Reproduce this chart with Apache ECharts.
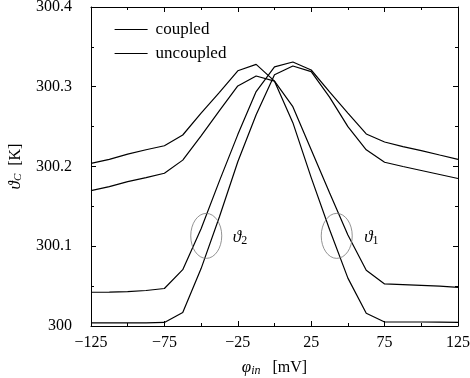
<!DOCTYPE html>
<html>
<head>
<meta charset="utf-8">
<script src="https://cdn.jsdelivr.net/npm/echarts@6/dist/echarts.min.js"></script>
<style>html,body{margin:0;padding:0;background:#fff}#c{width:470px;height:378px}</style>
</head>
<body>
<div id="c"></div>
<script>
// ---- data ----
const xValues = [-125,-112.5,-100,-87.5,-75,-62.5,-50,-37.5,-25,-12.5,0,12.5,25,37.5,50,62.5,75,87.5,100,112.5,125];
const theta1Coupled   = [300.204,300.209,300.2155,300.221,300.226,300.2395,300.267,300.293,300.320,300.328,300.307,300.275,300.221,300.167,300.114,300.070,300.0527,300.052,300.051,300.050,300.0485];
const theta1Uncoupled = [300.1697,300.1747,300.181,300.186,300.1915,300.208,300.2385,300.270,300.301,300.3135,300.307,300.255,300.186,300.121,300.060,300.016,300.005,300.005,300.005,300.0048,300.0046];
const theta2Coupled   = [300.0423,300.0425,300.043,300.0445,300.047,300.0706,300.122,300.182,300.240,300.294,300.325,300.331,300.321,300.2935,300.267,300.2408,300.2307,300.225,300.220,300.2144,300.209];
const theta2Uncoupled = [300.004,300.004,300.004,300.004,300.0045,300.017,300.072,300.137,300.206,300.265,300.315,300.326,300.319,300.287,300.250,300.221,300.2053,300.200,300.195,300.190,300.185];
const xMajorTicks = [-125,-75,-25,25,75,125];
const xMinorTicks = [-100,-50,0,50,100];
const legendNames = ['coupled','uncoupled'];
const ellipseCenters = [[-46.5,300.113],[42.4,300.113]];
const ellipseLabels = [{x:-23.5,y:300.111,sub:'2'},{x:66,y:300.111,sub:'1'}];

const FONT = '"Liberation Serif","DejaVu Serif",serif';
const chart = echarts.init(document.getElementById('c'), null, {renderer:'canvas'});

function pairs(v){ return xValues.map((x,i)=>[x,v[i]]); }
function fmtX(v){ return String(v).replace('-', '\u2212'); }

function mkSeries(name, vals){
  return {type:'line', name:name, data:pairs(vals), symbol:'none', showSymbol:false, xAxisIndex:0, yAxisIndex:0,
    lineStyle:{color:'#000', width:1.2}, itemStyle:{color:'#000'}, color:'#000', animation:false};
}

const baseX = {type:'value', min:-125, max:125, interval:25, splitLine:{show:false}};
const xAxes = [
  Object.assign({}, baseX, {position:'bottom',
    axisLine:{show:true, onZero:false, lineStyle:{color:'#000', width:1}},
    axisTick:{show:true, inside:true, length:5, customValues:xMajorTicks, lineStyle:{color:'#000'}},
    axisLabel:{show:true, customValues:xMajorTicks, formatter:fmtX, color:'#000', fontFamily:FONT, fontSize:16, margin:9},
    name:'{p|\u03C6}{s|in}   [mV]', nameLocation:'middle', nameGap:33,
    nameTextStyle:{color:'#000', fontFamily:FONT, fontSize:16, rich:{
      p:{fontFamily:FONT, fontStyle:'italic', fontSize:17, color:'#000'},
      s:{fontFamily:FONT, fontStyle:'italic', fontSize:12, color:'#000', padding:[6,0,0,0]}
    }}}),
  Object.assign({}, baseX, {position:'bottom', axisLine:{show:false, onZero:false},
    axisTick:{show:true, inside:true, length:3, customValues:xMinorTicks, lineStyle:{color:'#000'}},
    axisLabel:{show:false}}),
  Object.assign({}, baseX, {position:'top', axisLine:{show:true, onZero:false, lineStyle:{color:'#000'}},
    axisTick:{show:true, inside:true, length:5, customValues:xMajorTicks, lineStyle:{color:'#000'}},
    axisLabel:{show:false}}),
  Object.assign({}, baseX, {position:'top', axisLine:{show:false, onZero:false},
    axisTick:{show:true, inside:true, length:3, customValues:xMinorTicks, lineStyle:{color:'#000'}},
    axisLabel:{show:false}})
];

const baseY = {type:'value', min:300, max:300.4, interval:0.1, splitLine:{show:false},
  minorTick:{show:true, splitNumber:2, length:3, lineStyle:{color:'#000'}}, minorSplitLine:{show:false}};
const yAxes = [
  Object.assign({}, baseY, {position:'left',
    axisLine:{show:true, onZero:false, lineStyle:{color:'#000'}},
    axisTick:{show:true, inside:true, length:5, lineStyle:{color:'#000'}},
    axisLabel:{show:true, color:'#000', fontFamily:FONT, fontSize:16, margin:19,
      formatter:v=>{ const r=Math.round((v-300)*10)/10; return r===0?'300':(300+r).toFixed(1); }},
    name:'{v|\u03D1}{s|C}  [K]', nameLocation:'middle', nameRotate:90, nameGap:67,
    nameTextStyle:{color:'#000', fontFamily:FONT, fontSize:16, rich:{
      v:{fontFamily:FONT, fontStyle:'italic', fontSize:17, color:'#000'},
      s:{fontFamily:FONT, fontStyle:'italic', fontSize:11, color:'#000', padding:[6,0,0,0]}
    }}}),
  Object.assign({}, baseY, {position:'right',
    axisLine:{show:true, onZero:false, lineStyle:{color:'#000'}},
    axisTick:{show:true, inside:true, length:5, lineStyle:{color:'#000'}},
    axisLabel:{show:false}})
];

chart.setOption({
  animation:false,
  backgroundColor:'#fff',
  grid:{left:91, right:12, top:7, bottom:52, containLabel:false, outerBoundsMode:'none'},
  xAxis:xAxes,
  yAxis:yAxes,
  legend:{show:true, data:legendNames, orient:'vertical', left:114, top:21, padding:0,
    itemWidth:33, itemHeight:14, itemGap:7,
    itemStyle:{opacity:0},
    lineStyle:{color:'#000', width:1.2, opacity:1},
    textStyle:{color:'#000', fontFamily:FONT, fontSize:17, padding:[0,0,0,3]}},
  series:[
    mkSeries('coupled', theta1Coupled),
    mkSeries('uncoupled', theta1Uncoupled),
    mkSeries('coupled', theta2Coupled),
    mkSeries('uncoupled', theta2Uncoupled)
  ]
});

// annotations placed through the axes' scales
const g = [];
ellipseCenters.forEach(c=>{
  const p = chart.convertToPixel({xAxisIndex:0, yAxisIndex:0}, c);
  g.push({type:'ellipse', shape:{cx:p[0], cy:p[1], rx:15.5, ry:22.5},
    style:{fill:'none', stroke:'#777', lineWidth:0.8}, silent:true, z:50});
});
ellipseLabels.forEach(l=>{
  const p = chart.convertToPixel({xAxisIndex:0, yAxisIndex:0}, [l.x, l.y]);
  g.push({type:'text', x:p[0], y:p[1], silent:true, z:50,
    style:{text:'{v|\u03D1}{s|'+l.sub+'}', align:'center', verticalAlign:'middle',
      rich:{v:{fontFamily:FONT, fontStyle:'italic', fontSize:17, fill:'#000'},
            s:{fontFamily:FONT, fontSize:12, fill:'#000', padding:[6,0,0,0]}}}});
});
chart.setOption({graphic:g});
</script>
</body>
</html>
